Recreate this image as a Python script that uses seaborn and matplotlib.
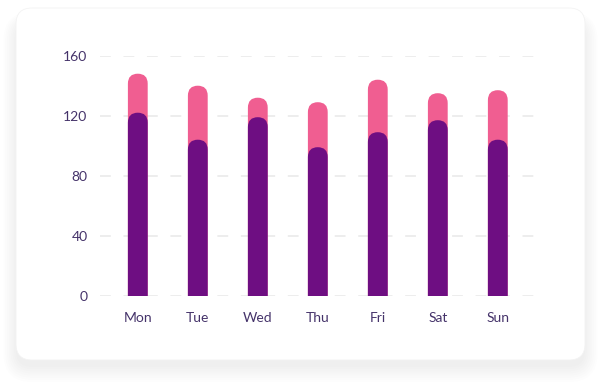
import seaborn as sns
import matplotlib.pyplot as plt
from matplotlib.patches import FancyBboxPatch

# values
days = ["Mon", "Tue", "Wed", "Thu", "Fri", "Sat", "Sun"]
base = [122, 104, 119, 99, 109, 117, 104]
extra = [26, 36, 13, 30, 35, 18, 33]
yticks = [0, 40, 80, 120, 160]

totals = [b + e for b, e in zip(base, extra)]

purple = "#6e0e82"
pink = "#f05e91"
label_col = "#45336a"

sns.set_style("white")
plt.rcParams["font.family"] = ["Lato", "DejaVu Sans"]

fig = plt.figure(figsize=(6.02, 3.85), dpi=100)
fig.patch.set_facecolor("white")

# card with soft shadow (inches, so corners stay round), drawn under the axes
for i in range(8):
    grow = 0.018 * i
    shadow = FancyBboxPatch((0.16 - grow, 0.18 - grow * 1.2), 5.69 + 2 * grow, 3.45 + 2 * grow,
                            boxstyle=f"round,pad=0,rounding_size={0.16 + grow}",
                            transform=fig.dpi_scale_trans, fc="#000000", ec="none",
                            alpha=0.009, zorder=-3)
    fig.patches.append(shadow)
card = FancyBboxPatch((0.16, 0.25), 5.69, 3.52, boxstyle="round,pad=0,rounding_size=0.16",
                      transform=fig.dpi_scale_trans, fc="white", ec="#f3f3f3", lw=0.6, zorder=-2)
fig.patches.append(card)

ax = fig.add_axes([100 / 602, (385 - 295.7) / 385, 438 / 602, 240 / 385])
ax.patch.set_alpha(0)

sns.barplot(x=days, y=totals, color=pink, width=0.33, saturation=1, ax=ax, zorder=3)
sns.barplot(x=days, y=base, color=purple, width=0.33, saturation=1, ax=ax, zorder=4)

ax.set_xlim(-0.63, 6.67)
ax.set_ylim(0, 160)

# round the bar tops: radius = half the bar width in pixels
p0, p1 = ax.transData.transform([(0, 0), (1, 1)])
asp = (p1[0] - p0[0]) / (p1[1] - p0[1])
for p in list(ax.patches):
    x, w, h = p.get_x(), p.get_width(), p.get_height()
    fc, z = p.get_facecolor(), p.get_zorder()
    p.remove()
    r = w / 2
    ry = r * asp
    ax.add_patch(FancyBboxPatch((x, -ry), w, h + ry,
                                boxstyle=f"round,pad=0,rounding_size={r}",
                                mutation_aspect=asp, fc=fc, ec="none", zorder=z))

ax.set_yticks(yticks)
ax.yaxis.grid(True, color="#ececec", linestyle=(0, (6, 7)), linewidth=1.3, zorder=0)
ax.xaxis.grid(False)
ax.set_axisbelow(True)
sns.despine(ax=ax, left=True, bottom=True)
ax.tick_params(axis="y", length=0, pad=9, labelsize=10, labelcolor=label_col)
ax.tick_params(axis="x", length=0, pad=12, labelsize=10, labelcolor=label_col)
ax.set_xlabel("")
ax.set_ylabel("")

fig.savefig("out.png", dpi=100)
